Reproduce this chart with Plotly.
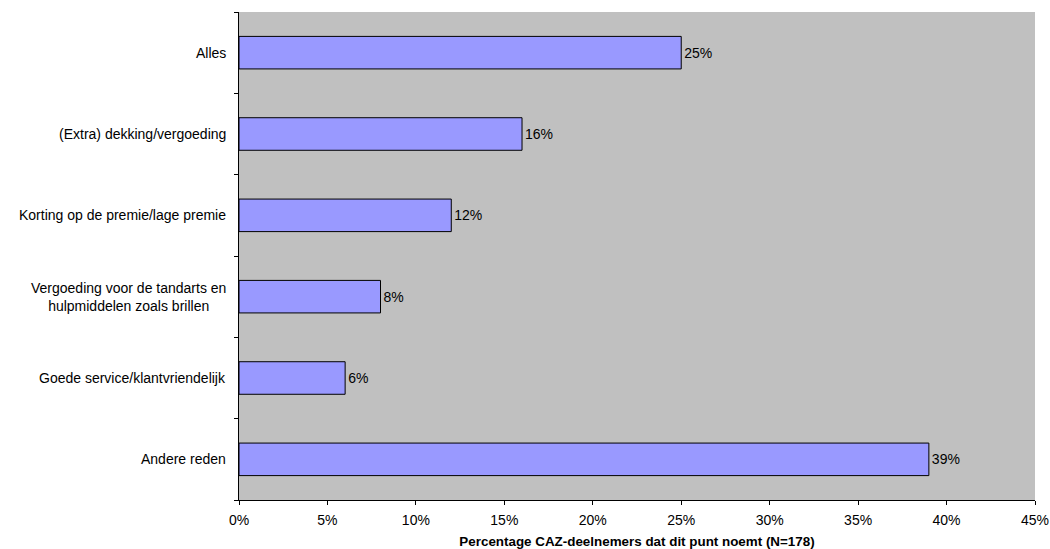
import plotly.graph_objects as go

categories = [
    "Alles",
    "(Extra) dekking/vergoeding",
    "Korting op de premie/lage premie",
    "Vergoeding voor de tandarts en<br>hulpmiddelen zoals brillen",
    "Goede service/klantvriendelijk",
    "Andere reden",
]
values = [0.25, 0.16, 0.12, 0.08, 0.06, 0.39]
labels = ["25%", "16%", "12%", "8%", "6%", "39%"]
x_ticks = [0, 0.05, 0.10, 0.15, 0.20, 0.25, 0.30, 0.35, 0.40, 0.45]

FONT = "Liberation Sans, Arial"

fig = go.Figure(
    go.Bar(
        x=values,
        y=categories,
        orientation="h",
        marker=dict(color="#9999FF", line=dict(color="#000000", width=1)),
        text=labels,
        textposition="outside",
        textfont=dict(family=FONT, size=14, color="#000000"),
        cliponaxis=False,
    )
)

for cat in categories:
    fig.add_annotation(
        x=0, xref="paper", y=cat, yref="y",
        text=cat, showarrow=False,
        xanchor="right", yanchor="middle", align="center",
        xshift=-11,
        font=dict(family=FONT, size=14, color="#000000"),
    )

fig.update_layout(
    width=1050,
    height=549,
    margin=dict(l=239, r=15, t=12, b=49, autoexpand=False),
    paper_bgcolor="#FFFFFF",
    plot_bgcolor="#C0C0C0",
    bargap=0.6,
    showlegend=False,
    font=dict(family=FONT, size=14, color="#000000"),
)

fig.update_xaxes(
    range=[0, 0.45],
    tickvals=x_ticks,
    tickformat=".0%",
    showgrid=False,
    zeroline=False,
    showline=True,
    linecolor="#000000",
    linewidth=1,
    ticks="outside",
    ticklen=4,
    tickcolor="#000000",
    tickfont=dict(size=14),
    ticklabelstandoff=3,
    ticklabeloverflow="allow",
    automargin=False,
    title=dict(
        text="<b>Percentage CAZ-deelnemers dat dit punt noemt (N=178)</b>",
        font=dict(size=13.4),
        standoff=10,
    ),
)

fig.update_yaxes(
    categoryorder="array",
    categoryarray=categories[::-1],
    showgrid=False,
    zeroline=False,
    showline=True,
    linecolor="#000000",
    linewidth=1,
    ticks="outside",
    tickson="boundaries",
    ticklen=4,
    tickcolor="#000000",
    showticklabels=False,
    automargin=False,
)

fig.write_html("out.html")
